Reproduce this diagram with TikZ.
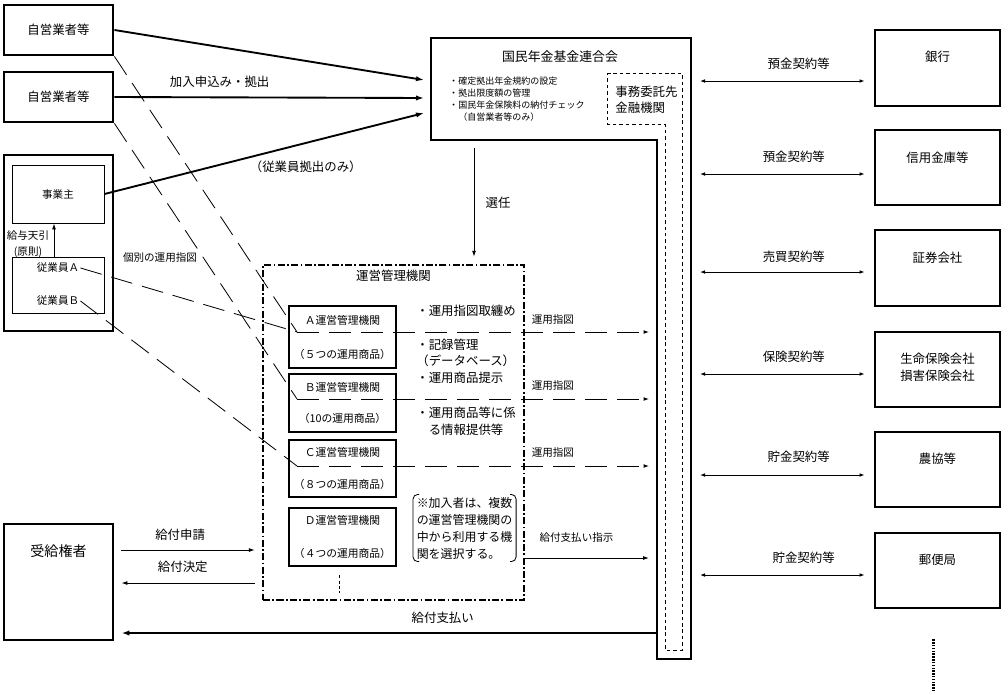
\documentclass[tikz,border=0pt]{standalone}
\usepackage{fontspec}
\setmainfont{Noto Sans CJK JP}
\usetikzlibrary{arrows.meta,positioning,calc}
\tikzset{
  heavybox/.style={rectangle, draw, line width=2.4pt, inner sep=0pt,
    align=center, font=\fontsize{10.6}{13}\selectfont},
  lightbox/.style={rectangle, draw, line width=0.8pt, inner sep=0pt,
    align=center},
  mgrbox/.style={rectangle, draw, line width=2.2pt, inner sep=0pt,
    align=center, minimum width=3.21cm, font=\fontsize{9.2}{11}\selectfont},
  lbl/.style={font=\fontsize{10.6}{14.2}\selectfont, inner sep=1pt, align=left},
  smalllbl/.style={font=\fontsize{9}{11}\selectfont, inner sep=1pt, align=left},
  flowarrow/.style={-{Latex[length=2.4mm,width=1.6mm]}, line width=1.6pt},
  thinarrow/.style={-{Latex[length=1.8mm,width=1.2mm]}, line width=0.8pt},
  dblarrow/.style={{Latex[length=1.5mm,width=1.1mm]}-{Latex[length=1.5mm,width=1.1mm]},
    line width=0.8pt},
  orderline/.style={line width=0.7pt, dash pattern=on 6.6mm off 3mm},
  orderarrow/.style={orderline, -{Latex[length=1.6mm,width=1.1mm]}},
  dashdot/.style={line width=2pt, dash pattern=on 6pt off 2pt on 1.5pt off 2pt},
}

\begin{document}
\begin{tikzpicture}[x=0.03cm, y=-0.03cm]
  \useasboundingbox (0,0) rectangle (1008,694);

  % members
  \node[heavybox, minimum width=3.27cm, minimum height=1.5cm] (self1) at (58.5,30) {自営業者等};
  \node[heavybox, minimum width=3.27cm, minimum height=1.5cm] (self2) at (58.5,97) {自営業者等};
  \node[heavybox, minimum width=3.27cm, minimum height=5.28cm] (firm) at (58.5,243) {};
  \node[lightbox, minimum width=2.76cm, minimum height=1.74cm, font=\fontsize{9}{11}\selectfont] (owner) at (58,194) {事業主};
  \node[lightbox, minimum width=2.76cm, minimum height=1.68cm] (staff) at (58,285) {};
  \node[smalllbl] (staffA) at (58,268) {従業員Ａ};
  \node[smalllbl] (staffB) at (58,301) {従業員Ｂ};
  \draw[thinarrow] ($(staff.north)+(-4,0)$) -- ($(owner.south)+(-4,0)$);
  \node[smalllbl] (deduct) at (28,235) {給与天引};
  \node[smalllbl] (rule) at (28,252) {(原則)};

  \node[heavybox, minimum width=3.27cm, minimum height=3.48cm] (heir) at (58.5,582) {};
  \node[font=\fontsize{12}{14}\selectfont] (heirtext) at ($(heir.north)+(0,29)$) {受給権者};

  % federation
  \draw[line width=2.4pt] (431,38) -- (691,38) -- (691,659) -- (657,659) -- (657,140) -- (431,140) -- cycle;
  \draw[line width=0.8pt, dash pattern=on 3pt off 2.5pt] (607,73) -- (682,73) -- (682,650) -- (665,650) -- (665,124) -- (607,124) -- cycle;
  \node[font=\fontsize{11}{13}\selectfont] (fedtitle) at (560,57) {国民年金基金連合会};
  \node[anchor=west, font=\fontsize{7.7}{10.2}\selectfont, align=left, inner sep=0pt] (fedtasks) at (449,99)
    {・確定拠出年金規約の設定\\・拠出限度額の管理\\・国民年金保険料の納付チェック\\　（自営業者等のみ）};
  \node[anchor=west, lbl, font=\fontsize{10.6}{13.7}\selectfont] (trustee) at (614,100) {事務委託先\\金融機関};

  \coordinate (fedin1) at (424,80);
  \coordinate (fedin2) at (424,98);
  \coordinate (fedin3) at (424,113);
  \coordinate (fedbot) at (474,148);
  \coordinate (fedL) at (649,0);
  \coordinate (fedR) at (691,38);

  \draw[flowarrow] (self1.east) -- (fedin1);
  \draw[flowarrow] (self2.east) -- node[lbl, pos=0.34, yshift=0.48cm] (applylbl) {加入申込み・拠出} (fedin2);
  \draw[flowarrow] (owner.east) -- node[lbl, pos=0.63, yshift=-0.72cm] (stafflbl) {（従業員拠出のみ）} (fedin3);

  % record keepers
  \node[rectangle, draw, dashdot, minimum width=7.83cm, minimum height=10.05cm] (mgmt) at (393.5,432.5) {};
  \node[lbl] (mgmttitle) at ($(mgmt.north)+(0,12)$) {運営管理機関};
  \draw[thinarrow, shorten >=0.21cm] (fedbot) -- node[lbl, pos=0.47, xshift=0.72cm] (appointlbl) {選任} (fedbot |- mgmt.north);

  \node[mgrbox, minimum height=1.86cm] (mgrA) at (342.5,337) {Ａ運営管理機関\\[18pt]（５つの運用商品）};
  \node[mgrbox, minimum height=1.74cm] (mgrB) at (342.5,403) {Ｂ運営管理機関\\[16pt]（10の運用商品）};
  \node[mgrbox, minimum height=1.71cm] (mgrC) at (342.5,468.5) {Ｃ運営管理機関\\[17pt]（８つの運用商品）};
  \node[mgrbox, minimum height=1.74cm] (mgrD) at (342.5,537) {Ｄ運営管理機関\\[17pt]（４つの運用商品）};
  \draw[line width=0.7pt, dash pattern=on 2.5pt off 2pt] ($(mgrD.south)+(-3,8)$) -- ($(mgrD.south)+(-3,26)$);

  \node[lbl, anchor=west] (task1) at (415,311) {・運用指図取纏め};
  \node[lbl, anchor=west] (task2) at (415,361) {・記録管理\\（データベース）\\・運用商品提示};
  \node[lbl, anchor=west] (task3) at (415,421) {・運用商品等に係\\　る情報提供等};

  \node[lbl, anchor=west, font=\fontsize{10.2}{14.5}\selectfont, inner xsep=3pt, inner ysep=2pt] (note) at (413,528)
    {※加入者は、複数\\の運営管理機関の\\中から利用する機\\関を選択する。};
  \draw[line width=0.7pt, rounded corners=4pt] ($(note.north west)+(6,0)$) -- (note.north west) -- (note.south west) -- ($(note.south west)+(6,0)$);
  \draw[line width=0.7pt, rounded corners=4pt] ($(note.north east)+(-6,0)$) -- (note.north east) -- (note.south east) -- ($(note.south east)+(-6,0)$);

  % investment orders
  \coordinate (ordA) at (297,332);
  \coordinate (ordB) at (297,399);
  \coordinate (ordC) at (297,466);
  \node[smalllbl] (ordlbl) at (160,258) {個別の運用指図};
  \draw[orderline] (self1.south east) -- (ordA);
  \draw[orderline] (self2.south east) -- (ordB);
  \draw[orderline] (staffA.east) -- (ordA);
  \draw[orderline] (staffB.east) -- (ordC);
  \draw[orderarrow] (ordA) -- node[smalllbl, pos=0.727, yshift=0.36cm] (ordlblA) {運用指図} (ordA -| fedL);
  \draw[orderarrow] (ordB) -- node[smalllbl, pos=0.727, yshift=0.39cm] (ordlblB) {運用指図} (ordB -| fedL);
  \draw[orderarrow] (ordC) -- node[smalllbl, pos=0.727, yshift=0.39cm] (ordlblC) {運用指図} (ordC -| fedL);

  % benefits
  \coordinate (payA) at (524,558);
  \coordinate (payout) at (657,633);
  \draw[thinarrow] (payA) -- node[smalllbl, pos=0.42, yshift=0.63cm] (paycmd) {給付支払い指示} (payA -| fedL);
  \draw[flowarrow] (payout) -- node[lbl, pos=0.4, yshift=0.45cm] (paylbl) {給付支払い} ($(heir.east |- payout)+(7,0)$);
  \draw[thinarrow] ($(heir.east)+(7,-32)$) -- node[lbl, pos=0.44, yshift=0.45cm] (claimlbl) {給付申請} ($(heir.east -| mgmt.west)+(-7,-32)$);
  \draw[thinarrow] ($(heir.east -| mgmt.west)+(-7,1)$) -- node[lbl, pos=0.54, yshift=0.48cm] (decidelbl) {給付決定} ($(heir.east)+(7,1)$);

  % financial institutions
  \node[heavybox, minimum width=3.75cm, minimum height=2.28cm] (bank) at (937.5,68) {};
  \node[lbl] (banktext) at ($(bank.north)+(0,28)$) {銀行};
  \node[heavybox, minimum width=3.75cm, minimum height=2.25cm] (credit) at (937.5,167.5) {};
  \node[lbl] (credittext) at ($(credit.north)+(0,29)$) {信用金庫等};
  \node[heavybox, minimum width=3.75cm, minimum height=2.28cm] (broker) at (937.5,268) {};
  \node[lbl] (brokertext) at ($(broker.north)+(0,29)$) {証券会社};
  \node[heavybox, minimum width=3.75cm, minimum height=2.25cm] (insurer) at (937.5,369.5) {};
  \node[lbl, align=center] (insurertext) at ($(insurer.north)+(0,36.5)$) {生命保険会社\\損害保険会社};
  \node[heavybox, minimum width=3.75cm, minimum height=2.25cm] (coop) at (937.5,469.5) {};
  \node[lbl] (cooptext) at ($(coop.north)+(0,28)$) {農協等};
  \node[heavybox, minimum width=3.75cm, minimum height=2.25cm] (post) at (937.5,570.5) {};
  \node[lbl] (posttext) at ($(post.north)+(0,28)$) {郵便局};
  \draw[line width=2pt, dash pattern=on 1.2pt off 1.2pt] ($(post.south)+(-4,30)$) -- ($(post.south)+(-4,82)$);

  \draw[dblarrow] ($(bank.west -| fedR)+(9,13)$) -- node[lbl, pos=0.6, yshift=0.51cm] (banklbl) {預金契約等} ($(bank.west)+(-9,13)$);
  \draw[dblarrow] ($(credit.west -| fedR)+(9,6.5)$) -- node[lbl, pos=0.57, yshift=0.51cm] (creditlbl) {預金契約等} ($(credit.west)+(-9,6.5)$);
  \draw[dblarrow] ($(broker.west -| fedR)+(9,4)$) -- node[lbl, pos=0.57, yshift=0.45cm] (brokerlbl) {売買契約等} ($(broker.west)+(-9,4)$);
  \draw[dblarrow] ($(insurer.west -| fedR)+(9,4.5)$) -- node[lbl, pos=0.57, yshift=0.51cm] (insurerlbl) {保険契約等} ($(insurer.west)+(-9,4.5)$);
  \draw[dblarrow] ($(coop.west -| fedR)+(9,5.5)$) -- node[lbl, pos=0.6, yshift=0.54cm] (cooplbl) {貯金契約等} ($(coop.west)+(-9,5.5)$);
  \draw[dblarrow] ($(post.west -| fedR)+(9,4.5)$) -- node[lbl, pos=0.63, yshift=0.51cm] (postlbl) {貯金契約等} ($(post.west)+(-9,4.5)$);
\end{tikzpicture}
\end{document}
